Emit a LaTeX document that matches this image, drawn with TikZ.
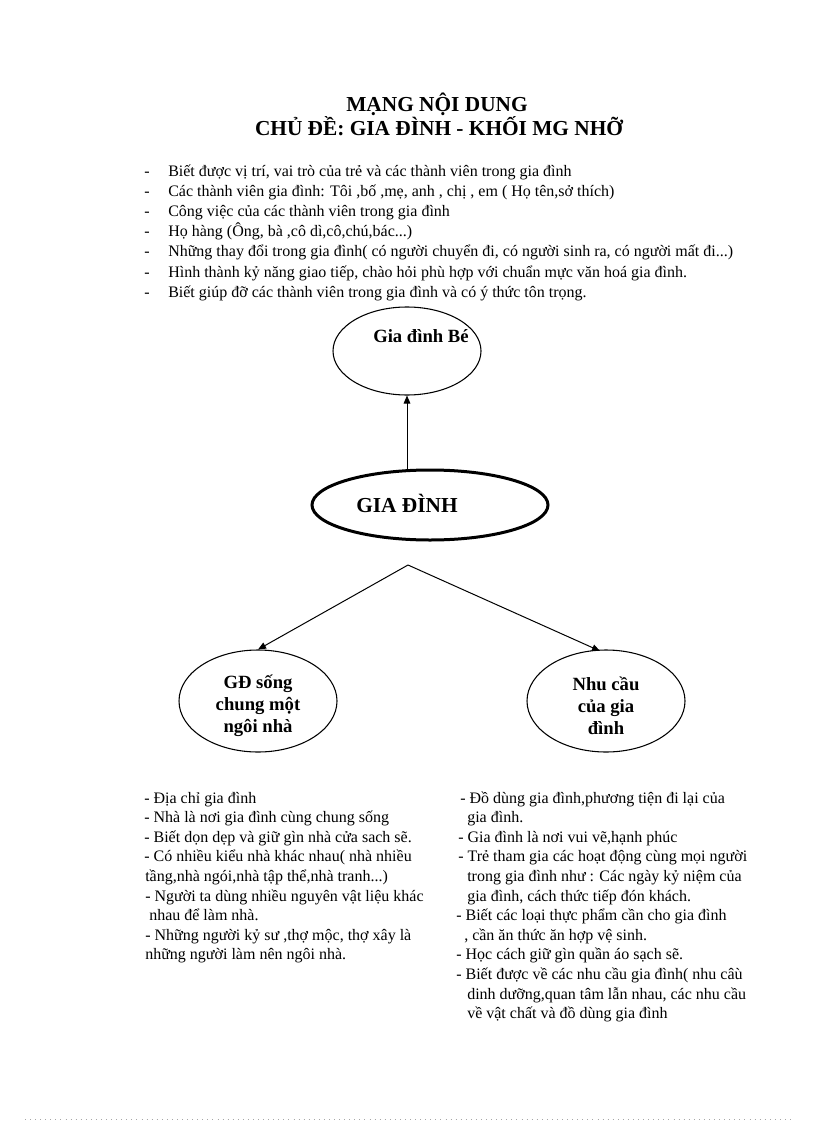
\documentclass[tikz,border=0pt]{standalone}
\usepackage{fontspec}
\setmainfont{Liberation Serif}
\usetikzlibrary{arrows.meta,shapes.geometric}
\begin{document}
\begin{tikzpicture}[x=0.75pt,y=-0.75pt,
  txt/.style={anchor=base west,inner sep=0pt,font=\fontsize{12}{14}\selectfont},
  ttl/.style={anchor=base,inner sep=0pt,font=\bfseries\fontsize{16}{19}\selectfont},
  lbl/.style={align=center,inner sep=0pt,font=\bfseries\fontsize{14}{16.5}\selectfont},
  oval/.style={draw,ellipse,inner sep=0pt,line width=0.8pt},
  arr/.style={line width=0.75pt,-{Triangle[length=6pt,width=5pt]}}]
\useasboundingbox (0,0) rectangle (816,1123);
% title
\node[ttl] (t1) at (437,112) {MẠNG NỘI DUNG};
\node[ttl] (t2) at (439,136) {CHỦ ĐỀ: GIA ĐÌNH - KHỐI MG NHỠ};
% bullets
\foreach \i/\s in {0/{Biết được vị trí, vai trò của trẻ và các thành viên trong gia đình},
  1/{Các thành viên gia đình: Tôi ,bố ,mẹ, anh , chị , em ( Họ tên,sở thích)},
  2/{Công việc của các thành viên trong gia đình},
  3/{Họ hàng (Ông, bà ,cô dì,cô,chú,bác...)},
  4/{Những thay đổi trong gia đình( có người chuyển đi, có người sinh ra, có người mất đi...)},
  5/{Hình thành kỷ năng giao tiếp, chào hỏi phù hợp với chuẩn mực văn hoá gia đình.},
  6/{Biết giúp đỡ các thành viên trong gia đình và có ý thức tôn trọng.}}{
  \node[txt] (d\i) at (144,{177+20*\i}) {-};
  \node[txt] (b\i) at (168,{177+20*\i}) {\s};
}
% ellipses
\node[oval,minimum width=148*0.75pt,minimum height=88*0.75pt] (be) at (407,351) {};
\node[lbl] (bet) at (421,336) {Gia đình Bé};
\node[oval,line width=2.25pt,minimum width=236*0.75pt,minimum height=70*0.75pt] (gd) at (430,505) {};
\node[lbl,font=\bfseries\fontsize{16}{19}\selectfont] (gdt) at (407,503) {GIA ĐÌNH};
\node[oval,minimum width=158*0.75pt,minimum height=102*0.75pt] (lg) at (258,701) {};
\node[lbl] (lgt) at (258,706) {GĐ sống\\[0pt]chung một\\[0pt]ngôi nhà};
\node[oval,minimum width=158*0.75pt,minimum height=102*0.75pt] (rg) at (606,701) {};
\node[lbl] (rgt) at (606,706) {Nhu cầu\\[0pt]của gia\\[0pt]đình};
% connectors
\coordinate (gtop) at (407,471);
\coordinate (split) at (408,565);
\coordinate (rtip) at (600,651);
\draw[arr] (gtop) -- (be.south);
\draw[arr] (split) -- (lg.north);
\draw[arr] (split) -- (rtip);
% bottom left
\node[txt] (l1) at (144,803) {- Địa chỉ gia đình};
\node[txt] (l2) at (144,822) {- Nhà là nơi gia đình cùng chung sống};
\node[txt] (l3) at (144,842) {- Biết dọn dẹp và giữ gìn nhà cửa sach sẽ.};
\node[txt] (l4) at (144,861) {- Có nhiều kiểu nhà khác nhau( nhà nhiều};
\node[txt] (l5) at (145,881) {tầng,nhà ngói,nhà tập thể,nhà tranh...)};
\node[txt] (l6) at (145,901) {- Người ta dùng nhiều nguyên vật liệu khác};
\node[txt] (l7) at (149,920) {nhau để làm nhà.};
\node[txt] (l8) at (145,940) {- Những người kỷ sư ,thợ mộc, thợ xây là};
\node[txt] (l9) at (145,959) {những người làm nên ngôi nhà.};
% bottom right
\node[txt] (r1) at (460,803) {- Đồ dùng gia đình,phương tiện đi lại của};
\node[txt] (r2) at (467,822) {gia đình.};
\node[txt] (r3) at (458,842) {- Gia đình là nơi vui vẽ,hạnh phúc};
\node[txt] (r4) at (458,861) {- Trẻ tham gia các hoạt động cùng mọi người};
\node[txt] (r5) at (467,881) {trong gia đình như : Các ngày kỷ niệm của};
\node[txt] (r6) at (467,901) {gia đình, cách thức tiếp đón khách.};
\node[txt] (r7) at (456,920) {- Biết các loại thực phẩm cần cho gia đình};
\node[txt] (r8) at (464,940) {, cần ăn thức ăn hợp vệ sinh.};
\node[txt] (r9) at (456,959) {- Học cách giữ gìn quần áo sạch sẽ.};
\node[txt] (r10) at (456,979) {- Biết được về các nhu cầu gia đình( nhu câù};
\node[txt] (r11) at (467,999) {dinh dưỡng,quan tâm lẫn nhau, các nhu cầu};
\node[txt] (r12) at (467,1018) {về vật chất và đồ dùng gia đình};
% page edge dots
\draw[black!35,line width=0.5pt,dash pattern=on 0.6pt off 3.2pt] (25,1119) -- (794,1119);
\end{tikzpicture}
\end{document}
